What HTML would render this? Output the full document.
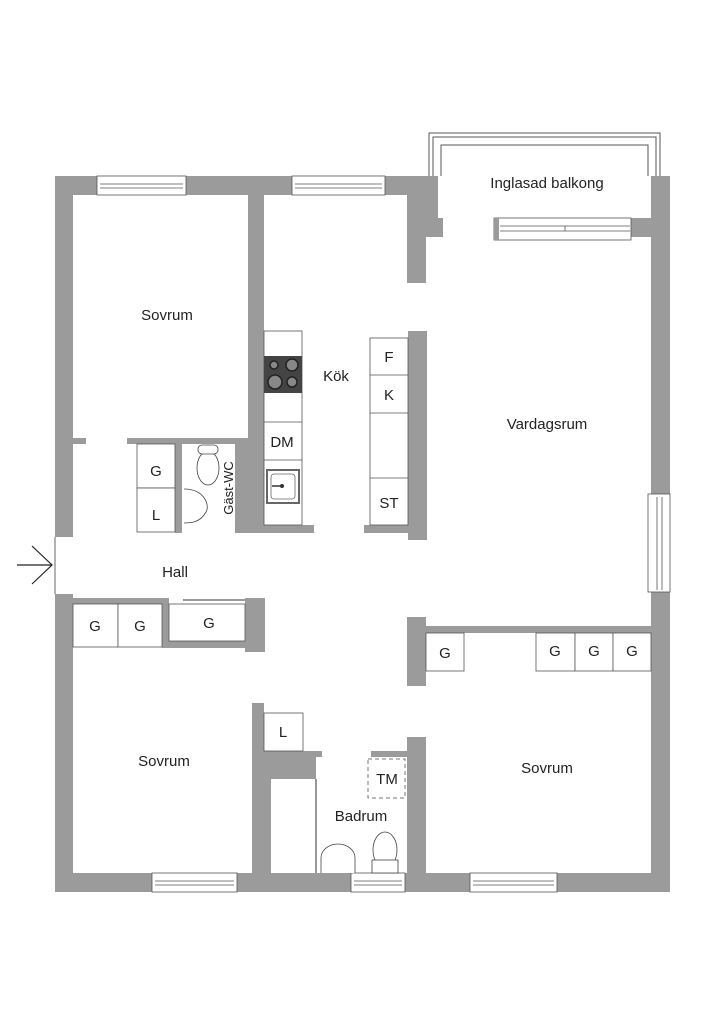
<!DOCTYPE html>
<html><head><meta charset="utf-8"><style>html,body{margin:0;padding:0;background:#fff}svg{display:block}text{font-family:"Liberation Sans",sans-serif;fill:#222}</style></head><body>
<svg width="724" height="1024" viewBox="0 0 724 1024" xmlns="http://www.w3.org/2000/svg">
<g fill="#9b9b9b">
<rect x="55" y="176" width="18" height="361"/>
<rect x="55" y="594" width="18" height="298"/>
<rect x="55" y="176" width="383" height="19"/>
<rect x="407" y="195" width="31" height="23"/>
<rect x="407" y="218" width="36" height="19"/>
<rect x="407" y="237" width="19" height="46"/>
<rect x="651" y="176" width="19" height="318"/>
<rect x="651" y="592" width="19" height="300"/>
<rect x="631" y="218" width="20" height="19"/>
<rect x="55" y="873" width="615" height="19"/>
<rect x="248" y="195" width="16" height="338"/>
<rect x="127" y="438" width="121" height="6"/>
<rect x="73" y="438" width="13" height="6"/>
<rect x="175" y="444" width="7" height="89"/>
<rect x="235" y="444" width="13" height="89"/>
<rect x="235" y="525" width="79" height="8"/>
<rect x="408" y="331" width="19" height="209"/>
<rect x="364" y="525" width="44" height="8"/>
<rect x="73" y="598" width="96" height="6"/>
<rect x="162" y="598" width="7" height="48"/>
<rect x="162" y="641" width="103" height="7"/>
<rect x="245" y="598" width="20" height="54"/>
<rect x="407" y="617" width="19" height="69"/>
<rect x="426" y="626" width="225" height="7"/>
<rect x="252" y="703" width="12" height="170"/>
<rect x="252" y="751" width="70" height="6"/>
<rect x="252" y="757" width="64" height="22"/>
<rect x="252" y="779" width="19" height="94"/>
<rect x="407" y="737" width="19" height="136"/>
<rect x="371" y="751" width="36" height="6"/>
</g>
<g fill="#fff" stroke="#555" stroke-width="0.8">
<rect x="97" y="176" width="89" height="19"/><line x1="100" y1="184" x2="183" y2="184"/><line x1="100" y1="188" x2="183" y2="188"/>
<rect x="292" y="176" width="93" height="19"/><line x1="295" y1="184" x2="382" y2="184"/><line x1="295" y1="188" x2="382" y2="188"/>
<rect x="494" y="218" width="137" height="22"/><line x1="500" y1="226" x2="630" y2="226"/><line x1="500" y1="231" x2="630" y2="231"/><line x1="565" y1="226" x2="565" y2="231"/>
<rect x="648" y="494" width="22" height="98"/><line x1="657" y1="497" x2="657" y2="590"/><line x1="662" y1="497" x2="662" y2="590"/>
<rect x="152" y="873" width="85" height="19"/><line x1="155" y1="881" x2="234" y2="881"/><line x1="155" y1="885" x2="234" y2="885"/>
<rect x="351" y="873" width="54" height="19"/><line x1="354" y1="881" x2="402" y2="881"/><line x1="354" y1="885" x2="402" y2="885"/>
<rect x="470" y="873" width="87" height="19"/><line x1="473" y1="881" x2="554" y2="881"/><line x1="473" y1="885" x2="554" y2="885"/>
</g>
<rect x="494" y="218" width="5" height="22" fill="#9b9b9b"/>
<g fill="none" stroke="#555" stroke-width="1">
<path d="M429 176 V133 H660 V176"/><path d="M433 176 V137 H656 V176"/>
<path d="M441 176 V145 H648 V176"/>
</g>
<line x1="55" y1="537" x2="55" y2="594" stroke="#666" stroke-width="1"/>
<g stroke="#222" stroke-width="1.2" fill="none"><line x1="17" y1="565" x2="52" y2="565"/><path d="M32 546 L52 565 L32 584"/></g>
<g fill="#fff" stroke="#555" stroke-width="0.8">
<rect x="137" y="444" width="38" height="44"/><rect x="137" y="488" width="38" height="44"/>
<rect x="264" y="331" width="38" height="194"/>
<line x1="264" y1="422" x2="302" y2="422"/><line x1="264" y1="460" x2="302" y2="460"/>
<rect x="370" y="338" width="38" height="187"/>
<line x1="370" y1="375" x2="408" y2="375"/><line x1="370" y1="413" x2="408" y2="413"/><line x1="370" y1="478" x2="408" y2="478"/>
<rect x="73" y="604" width="45" height="43"/><rect x="118" y="604" width="44" height="43"/>
<rect x="169" y="604" width="76" height="37"/>
<rect x="426" y="633" width="38" height="38"/>
<rect x="536" y="633" width="39" height="38"/><rect x="575" y="633" width="38" height="38"/><rect x="613" y="633" width="38" height="38"/>
<rect x="264" y="713" width="39" height="38"/>
</g>
<line x1="183" y1="600" x2="245" y2="600" stroke="#999" stroke-width="2"/>
<rect x="264" y="356" width="38" height="37" fill="#444"/>
<g fill="#888" stroke="#222" stroke-width="1.5"><circle cx="274" cy="365" r="4"/><circle cx="292" cy="365" r="6"/><circle cx="275" cy="382" r="7"/><circle cx="292" cy="382" r="5"/></g>
<rect x="267" y="470" width="32" height="33" fill="#fff" stroke="#666" stroke-width="2"/>
<rect x="271" y="474" width="24" height="25" fill="#fff" stroke="#666" stroke-width="0.8" rx="3"/>
<circle cx="282" cy="486" r="2" fill="#333"/><line x1="272" y1="486" x2="281" y2="486" stroke="#333" stroke-width="1.5"/>
<g fill="#fff" stroke="#444" stroke-width="0.8">
<ellipse cx="208" cy="468" rx="11" ry="17"/><rect x="198" y="445" width="20" height="9" rx="4"/>
<path d="M184 489 C205 489 210 506 206 512 C200 523 190 523 184 523"/>
<path d="M321 873 V858 A17 14 0 0 1 355 858 V873"/>
<ellipse cx="385" cy="850" rx="12" ry="18"/><rect x="372" y="860" width="26" height="13"/>
</g>
<line x1="316" y1="779" x2="316" y2="873" stroke="#333" stroke-width="1"/>
<rect x="368" y="759" width="37" height="39" fill="none" stroke="#777" stroke-width="1" stroke-dasharray="4,3"/>
<g font-size="15" text-anchor="middle">
<text x="167" y="320">Sovrum</text>
<text x="336" y="381">Kök</text>
<text x="547" y="429">Vardagsrum</text>
<text x="547" y="188">Inglasad balkong</text>
<text x="175" y="577">Hall</text>
<text x="164" y="766">Sovrum</text>
<text x="361" y="821">Badrum</text>
<text x="547" y="773">Sovrum</text>
<text x="389" y="362">F</text><text x="389" y="400">K</text><text x="389" y="508">ST</text>
<text x="282" y="447">DM</text>
<text x="156" y="476">G</text><text x="156" y="520">L</text>
<text x="95" y="631">G</text><text x="140" y="631">G</text><text x="209" y="628">G</text>
<text x="445" y="658">G</text><text x="555" y="656">G</text><text x="594" y="656">G</text><text x="632" y="656">G</text>
<text x="283" y="737">L</text>
<text x="387" y="784">TM</text>
<text x="0" y="0" font-size="13" transform="translate(233,488) rotate(-90)">Gäst-WC</text>
</g>
</svg>
</body></html>
